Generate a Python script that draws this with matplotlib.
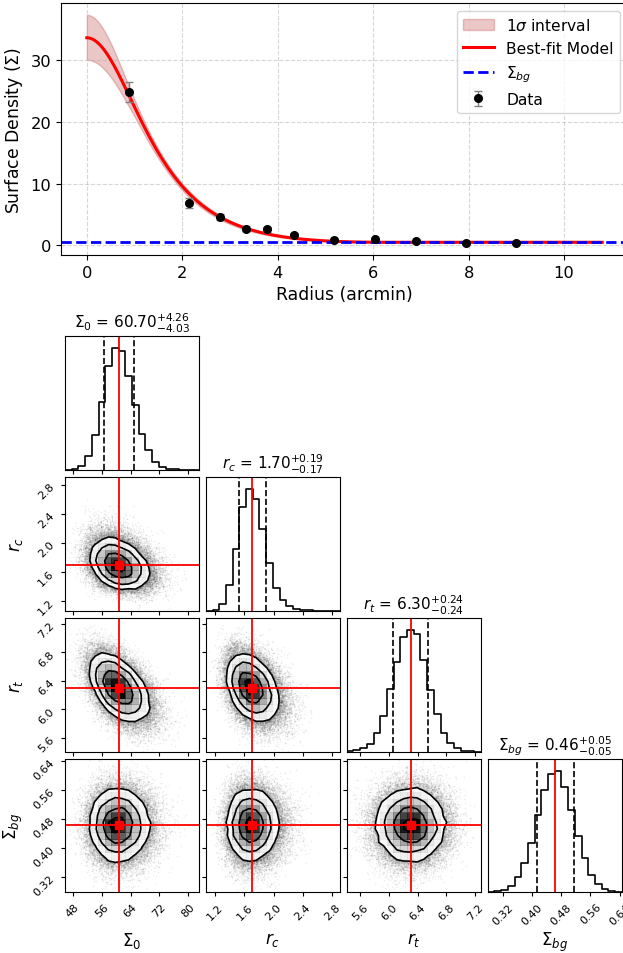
import numpy as np
import matplotlib
matplotlib.use("Agg")
import matplotlib.pyplot as plt
from matplotlib.colors import LinearSegmentedColormap
from matplotlib.ticker import FixedLocator, FormatStrFormatter, NullLocator

# binned surface density profile
radius = np.array([0.89, 2.15, 2.80, 3.33, 3.77, 4.35, 5.18, 6.04, 6.89, 7.95, 9.00])
density = np.array([24.8, 6.85, 4.55, 2.65, 2.55, 1.68, 0.87, 0.97, 0.60, 0.35, 0.30])
density_err = np.array([1.6, 0.8, 0.55, 0.4, 0.4, 0.3, 0.25, 0.25, 0.2, 0.15, 0.15])

# posterior summary: median, +err, -err
param_labels = [r"$\Sigma_0$", r"$r_c$", r"$r_t$", r"$\Sigma_{bg}$"]
param_median = np.array([60.70, 1.70, 6.30, 0.464])
param_err_hi = np.array([4.26, 0.19, 0.24, 0.05])
param_err_lo = np.array([4.03, 0.17, 0.24, 0.05])
param_log = [True, True, False, False]
param_corr = np.array([[1.00, -0.30, -0.50, 0.00],
                       [-0.30, 1.00, -0.35, 0.00],
                       [-0.50, -0.35, 1.00, 0.00],
                       [0.00, 0.00, 0.00, 1.00]])
param_range = [(45.87, 82.96), (1.07, 2.91), (5.41, 7.28), (0.278, 0.646)]
param_ticks = [[48, 56, 64, 72, 80], [1.2, 1.6, 2.0, 2.4, 2.8],
               [5.6, 6.0, 6.4, 6.8, 7.2], [0.32, 0.40, 0.48, 0.56, 0.64]]
tick_fmt = ["%d", "%.1f", "%.1f", "%.2f"]
n_samples = 40000


def king(r, s0, rc, rt, bg):
    term = 1.0 / np.sqrt(1 + (r / rc) ** 2) - 1.0 / np.sqrt(1 + (rt / rc) ** 2)
    return np.where(r < rt, s0 * term ** 2, 0.0) + bg


# MCMC-like chain built from the posterior summary
rng = np.random.default_rng(7)
z = rng.multivariate_normal(np.zeros(4), param_corr, size=n_samples)
samples = np.empty_like(z)
for i in range(4):
    med, hi, lo = param_median[i], param_err_hi[i], param_err_lo[i]
    if param_log[i]:
        s = 0.5 * np.log((med + hi) / (med - lo))
        samples[:, i] = med * np.exp(s * z[:, i])
    else:
        samples[:, i] = med + 0.5 * (hi + lo) * z[:, i]

W, H = 623, 954
fig = plt.figure(figsize=(W / 100, H / 100), dpi=100)


def px_axes(left, top, width, height):
    return fig.add_axes([left / W, 1 - (top + height) / H, width / W, height / H])


# ---- radial profile panel ----
ax = px_axes(61, 4, 567, 252)
r_model = np.linspace(0, 1.2 * radius.max(), 400)
sub = samples[::10]
models = king(r_model[None, :], sub[:, 0:1], sub[:, 1:2], sub[:, 2:3], sub[:, 3:4])
lo_band, hi_band = np.percentile(models, [16, 84], axis=0)
best = king(r_model, *param_median)

band = ax.fill_between(r_model, lo_band, hi_band, color="firebrick", alpha=0.25)
line, = ax.plot(r_model, best, color="red", lw=2.2)
bgline = ax.axhline(param_median[3], color="blue", ls="--", lw=2)
data = ax.errorbar(radius, density, yerr=density_err, fmt="o", color="black",
                   ecolor="gray", ms=5.5, capsize=3, elinewidth=1)
ax.legend([band, line, bgline, data],
          [r"1$\sigma$ interval", "Best-fit Model", r"$\Sigma_{bg}$", "Data"],
          loc="upper right", fontsize=11.2)
ax.set_xlim(-0.54, 11.34)
ax.set_ylim(-1.6, 39.3)
ax.set_xticks([0, 2, 4, 6, 8, 10])
ax.set_yticks([0, 10, 20, 30])
ax.tick_params(labelsize=11.7)
ax.set_xlabel("Radius (arcmin)", fontsize=12.4)
ax.set_ylabel(r"Surface Density ($\Sigma$)", fontsize=12.4)
ax.grid(True, ls="--", alpha=0.5)

# ---- corner plot ----
white_cmap = LinearSegmentedColormap.from_list("white_cmap", [(1, 1, 1), (1, 1, 1)], N=2)
density_cmap = LinearSegmentedColormap.from_list("density_cmap", [(0, 0, 0, 1), (1, 1, 1, 0)])
levels = 1.0 - np.exp(-0.5 * np.arange(0.5, 2.1, 0.5) ** 2)


def hist2d(ax, x, y, rx, ry, bins=20):
    Hh, X, Y = np.histogram2d(x, y, bins=bins, range=[rx, ry])
    Hflat = np.sort(Hh.flatten())[::-1]
    sm = np.cumsum(Hflat)
    sm /= sm[-1]
    V = np.empty(len(levels))
    for k, v0 in enumerate(levels):
        sel = Hflat[sm <= v0]
        V[k] = sel[-1] if len(sel) else Hflat[0]
    V.sort()
    X1, Y1 = 0.5 * (X[1:] + X[:-1]), 0.5 * (Y[1:] + Y[:-1])
    H2 = Hh.min() + np.zeros((Hh.shape[0] + 4, Hh.shape[1] + 4))
    H2[2:-2, 2:-2] = Hh
    H2[2:-2, 1] = Hh[:, 0]
    H2[2:-2, -2] = Hh[:, -1]
    H2[1, 2:-2] = Hh[0]
    H2[-2, 2:-2] = Hh[-1]
    H2[1, 1] = Hh[0, 0]
    H2[1, -2] = Hh[0, -1]
    H2[-2, 1] = Hh[-1, 0]
    H2[-2, -2] = Hh[-1, -1]
    X2 = np.concatenate([X1[0] + np.array([-2, -1]) * np.diff(X1[:2]), X1,
                         X1[-1] + np.array([1, 2]) * np.diff(X1[-2:])])
    Y2 = np.concatenate([Y1[0] + np.array([-2, -1]) * np.diff(Y1[:2]), Y1,
                         Y1[-1] + np.array([1, 2]) * np.diff(Y1[-2:])])
    ax.plot(x, y, "o", color="k", ms=1.1, mec="none", alpha=0.07, zorder=-1, rasterized=True)
    ax.contourf(X2, Y2, H2.T, [V.min(), Hh.max()], cmap=white_cmap, antialiased=False)
    ax.pcolor(X, Y, Hh.max() - Hh.T, cmap=density_cmap)
    ax.contour(X2, Y2, H2.T, V, colors="k", linewidths=1.2)


step = 140.9
for j in range(4):
    for i in range(j + 1):
        cax = px_axes(65 + step * i, 337.3 + step * j, 134, 133.4)
        if i == j:
            x = samples[:, i]
            n, b = np.histogram(x, bins=20, range=param_range[i])
            x0 = np.array(list(zip(b[:-1], b[1:]))).flatten()
            y0 = np.array(list(zip(n, n))).flatten()
            cax.plot(x0, y0, color="k", lw=1.2)
            cax.axvline(param_median[i] - param_err_lo[i], color="k", ls="--", lw=1.2)
            cax.axvline(param_median[i] + param_err_hi[i], color="k", ls="--", lw=1.2)
            cax.axvline(param_median[i], color="red", lw=1.3)
            cax.set_ylim(0, 1.1 * n.max())
            cax.yaxis.set_major_locator(NullLocator())
            title = r"${{{0:.2f}}}_{{-{1:.2f}}}^{{+{2:.2f}}}$".format(
                param_median[i], param_err_lo[i], param_err_hi[i])
            cax.set_title("{0} = {1}".format(param_labels[i], title), fontsize=11)
        else:
            hist2d(cax, samples[:, i], samples[:, j], param_range[i], param_range[j])
            cax.axvline(param_median[i], color="red", lw=1.3)
            cax.axhline(param_median[j], color="red", lw=1.3)
            cax.plot(param_median[i], param_median[j], "s", color="red", ms=6)
            cax.set_ylim(param_range[j])
            cax.yaxis.set_major_locator(FixedLocator(param_ticks[j]))
            if i == 0:
                cax.yaxis.set_major_formatter(FormatStrFormatter(tick_fmt[j]))
                for lab in cax.get_yticklabels():
                    lab.set_rotation(45)
                cax.set_ylabel(param_labels[j], fontsize=12)
                cax.yaxis.set_label_coords(-0.3, 0.5)
            else:
                cax.set_yticklabels([])
        cax.set_xlim(param_range[i])
        cax.xaxis.set_major_locator(FixedLocator(param_ticks[i]))
        if j == 3:
            cax.xaxis.set_major_formatter(FormatStrFormatter(tick_fmt[i]))
            for lab in cax.get_xticklabels():
                lab.set_rotation(45)
            cax.set_xlabel(param_labels[i], fontsize=12)
            cax.xaxis.set_label_coords(0.5, -0.28)
        else:
            cax.set_xticklabels([])
        cax.tick_params(labelsize=8, length=3)

fig.savefig("out.png", dpi=100)
